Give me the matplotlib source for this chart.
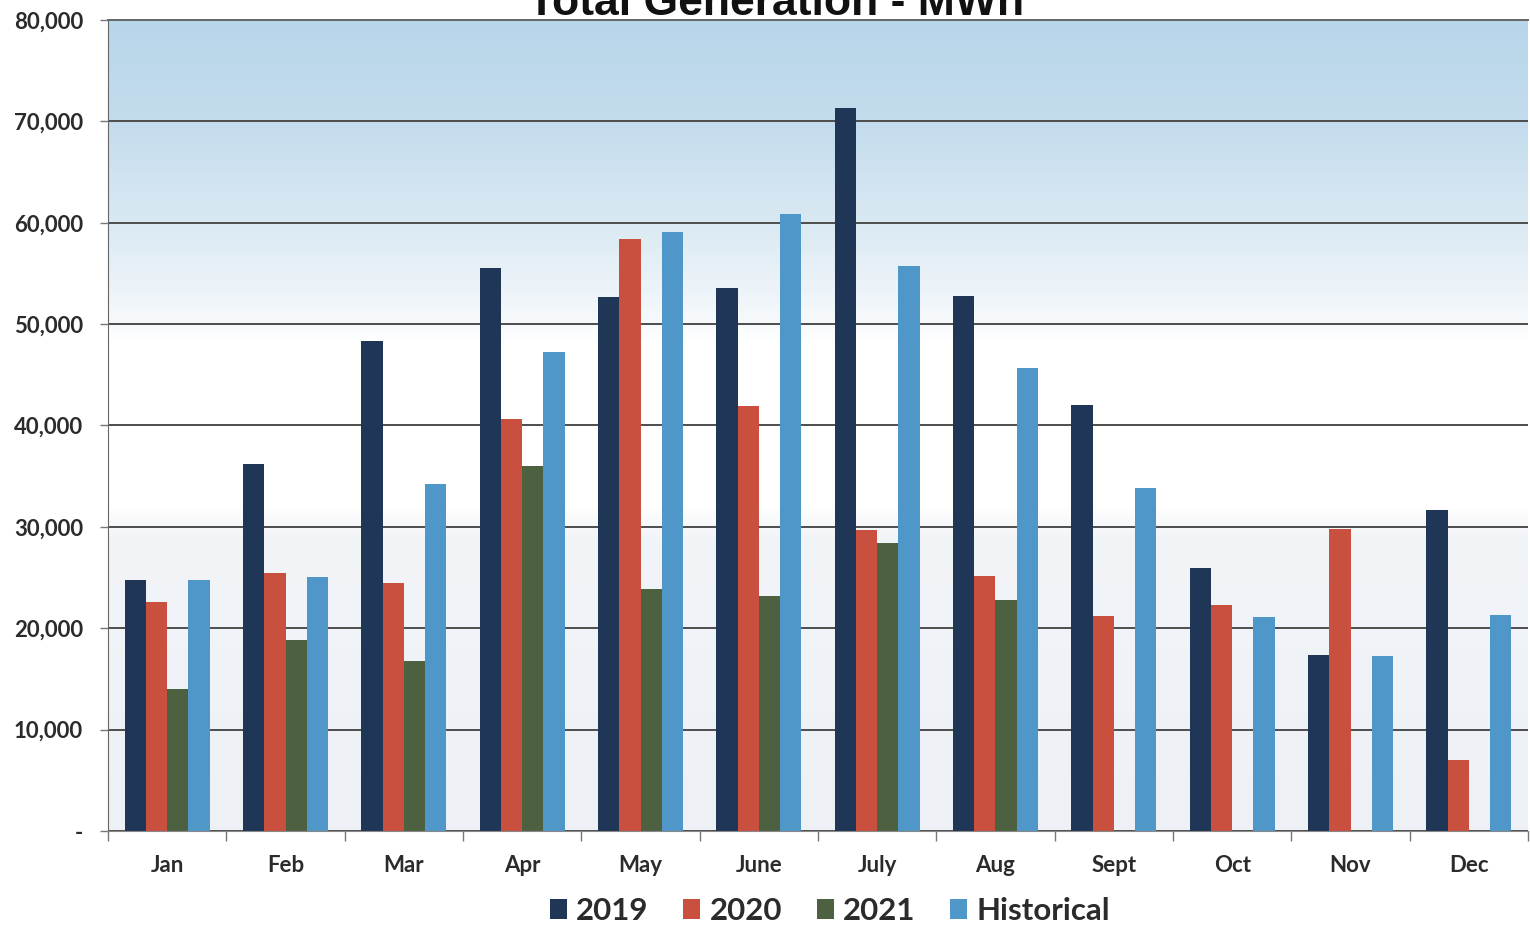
import numpy as np
import matplotlib.pyplot as plt
from matplotlib.patches import Patch
from matplotlib.ticker import FuncFormatter
from matplotlib.colors import LinearSegmentedColormap

# Monthly generation, MWh
months = ["Jan", "Feb", "Mar", "Apr", "May", "June",
          "July", "Aug", "Sept", "Oct", "Nov", "Dec"]
gen_2019 = [24750, 36190, 48310, 55510, 52720, 53570,
            71290, 52770, 42000, 25990, 17410, 31690]
gen_2020 = [22580, 25470, 24420, 40620, 58440, 41930,
            29680, 25150, 21190, 22320, 29800, 7030]
gen_2021 = [14000, 18800, 16790, 35990, 23890, 23200,
            28430, 22740, np.nan, np.nan, np.nan, np.nan]
gen_hist = [24750, 25070, 34240, 47230, 59090, 60900,
            55710, 45630, 33840, 21110, 17300, 21340]

series = [("2019", gen_2019, "#1f3656"),
          ("2020", gen_2020, "#c9503f"),
          ("2021", gen_2021, "#4d6141"),
          ("Historical", gen_hist, "#4f97c9")]

plt.rcParams['font.family'] = ['Lato', 'DejaVu Sans']

fig = plt.figure(figsize=(15.3, 9.3), dpi=100)
ax = fig.add_axes([108 / 1530, 1 - 831 / 930, 1420 / 1530, 811 / 930])

# sky-like background: light blue on top fading to white, pale grey near the base
stops = [(0.0, (0.930, 0.945, 0.963)),
         (0.36, (0.948, 0.958, 0.972)),
         (0.40, (1.0, 1.0, 1.0)),
         (0.60, (1.0, 1.0, 1.0)),
         (0.66, (0.935, 0.958, 0.977)),
         (0.75, (0.855, 0.915, 0.952)),
         (0.87, (0.77, 0.865, 0.932)),
         (1.0, (0.72, 0.84, 0.92))]
cmap = LinearSegmentedColormap.from_list("bg", stops)
grad = np.linspace(0, 1, 400).reshape(-1, 1)
ax.imshow(grad, cmap=cmap, aspect="auto", origin="lower",
          extent=[-0.5, 11.5, 0, 80000], zorder=0)

x = np.arange(len(months))
w = 0.18
for i, (name, vals, col) in enumerate(series):
    ax.bar(x + (i - 1.5) * w, vals, width=w, color=col, zorder=2)

ax.set_xlim(-0.5, 11.5)
ax.set_ylim(0, 80000)
ax.set_yticks(np.arange(0, 80001, 10000))
ax.yaxis.set_major_formatter(FuncFormatter(lambda v, p: "-" if v == 0 else f"{int(v):,}"))
ax.grid(axis="y", color="#4d4d4d", linewidth=1.4, zorder=1)
ax.set_axisbelow(True)

# group boundary ticks, month labels in the middle
ax.set_xticks(np.arange(-0.5, 12, 1))
ax.set_xticklabels([])
ax.set_xticks(x, minor=True)
ax.set_xticklabels(months, minor=True)
ax.tick_params(axis="x", which="major", length=7, width=1, color="#777777", direction="out")
ax.tick_params(axis="x", which="minor", length=0, pad=17, labelsize=16, labelcolor="#2b2b2b")
ax.tick_params(axis="y", length=6, width=1, color="#777777", pad=12,
               labelsize=16, labelcolor="#2b2b2b")
for lab in ax.get_xticklabels(minor=True) + ax.get_yticklabels():
    lab.set_fontweight("bold")

ax.spines["right"].set_visible(False)
ax.spines["left"].set_color("#666666")
ax.spines["bottom"].set_color("#888888")
ax.spines["top"].set_color("#666666")
ax.spines["top"].set_linewidth(1.4)

# title sits mostly above the page edge
fig.text(776 / 1530, 1 - 15 / 930, "Total Generation - MWh", ha="center", va="baseline",
         fontsize=32, fontweight="bold", family="Liberation Sans", color="#111111")

handles = [Patch(facecolor=c, label=n) for n, _, c in series]
leg = fig.legend(handles=handles, loc="center", bbox_to_anchor=(830 / 1530, 1 - 911 / 930),
                 ncol=4, frameon=False, handlelength=0.55, handleheight=0.65,
                 handletextpad=0.3, columnspacing=1.1,
                 prop={"size": 22.5, "weight": "bold"})
for t in leg.get_texts():
    t.set_color("#2b2b2b")

plt.savefig("out.png", dpi=100)
